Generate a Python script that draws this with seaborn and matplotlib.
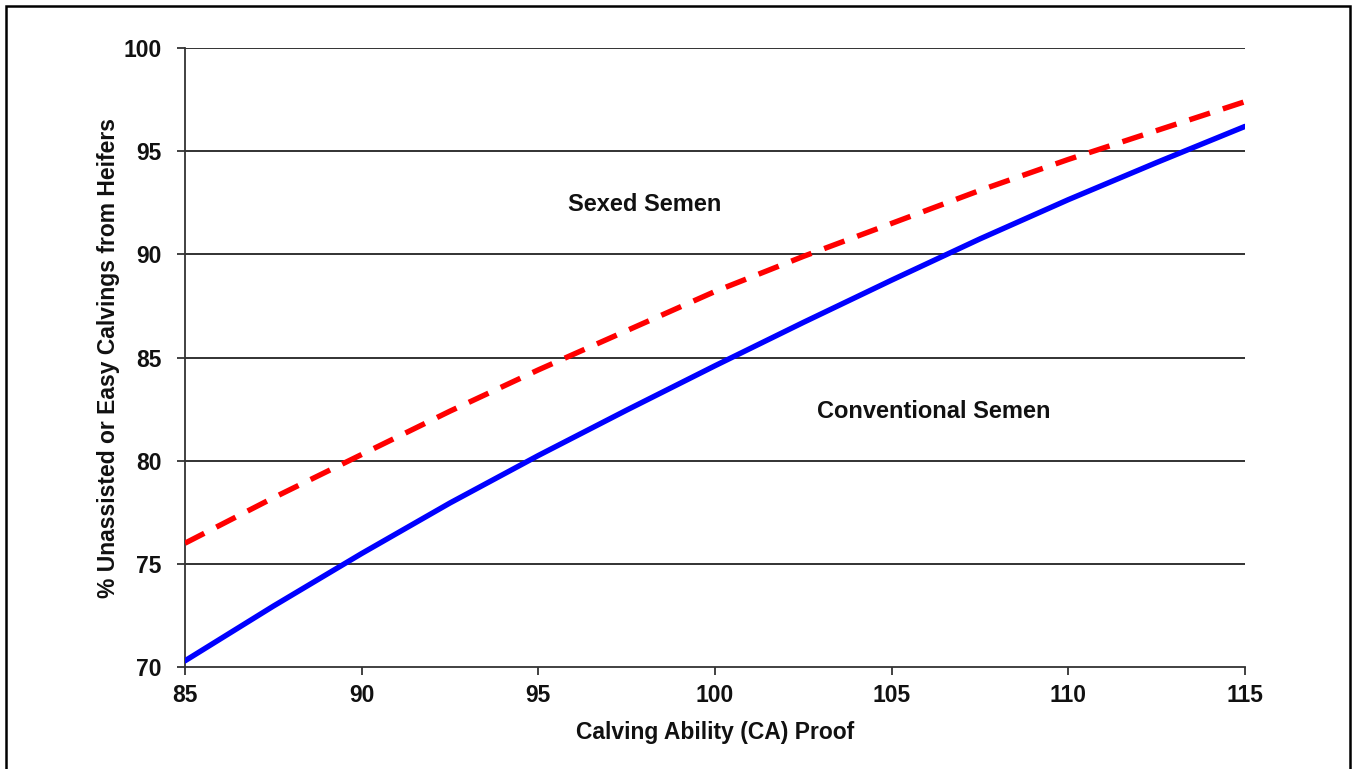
import numpy as np
import pandas as pd
import matplotlib
matplotlib.use("Agg")
import matplotlib.pyplot as plt
import seaborn as sns
from matplotlib.patches import Rectangle

# -----------------------------
# DATA
# -----------------------------
ca_proof = [85, 87.5, 90, 92.5, 95, 97.5, 100, 102.5, 105, 107.5, 110, 112.5, 115]
sexed = [76.0, 78.2, 80.3, 82.4, 84.4, 86.3, 88.2, 89.9, 91.5, 93.1, 94.6, 96.0, 97.4]
conventional = [70.3, 72.95, 75.5, 77.95, 80.25, 82.45, 84.6, 86.7, 88.75, 90.75, 92.65, 94.45, 96.2]

x_ticks = [85, 90, 95, 100, 105, 110, 115]
y_ticks = [70, 75, 80, 85, 90, 95, 100]

df = pd.DataFrame({"ca": ca_proof, "sexed": sexed, "conventional": conventional})

# -----------------------------
# STYLE
# -----------------------------
sns.set_style("white")
plt.rcParams["font.family"] = ["Liberation Sans", "DejaVu Sans"]
plt.rcParams["font.weight"] = "bold"

fig = plt.figure(figsize=(13.55, 7.69), dpi=100)
ax = fig.add_axes([185 / 1355, 1 - 667 / 769, 1060 / 1355, 619 / 769])

# outer frame
fig.patches.append(Rectangle((6 / 1355, -0.05), 1344 / 1355, 1.05 - 6 / 769,
                             transform=fig.transFigure, fill=False,
                             edgecolor="black", linewidth=1.8))

# gridlines
for yv in y_ticks[1:]:
    ax.axhline(yv, color="#222222", linewidth=1.3, zorder=1)

# -----------------------------
# LINES
# -----------------------------
sns.lineplot(data=df, x="ca", y="conventional", ax=ax, color="#0000ff",
             linewidth=3.9, zorder=3)
sns.lineplot(data=df, x="ca", y="sexed", ax=ax, color="#ff0000",
             linewidth=3.9, zorder=3)
ax.lines[-1].set_dashes([4.0, 2.5])

ax.text(98.0, 92.4, "Sexed Semen", ha="center", va="center",
        fontsize=17, fontweight="bold", color="#111111")
ax.text(106.2, 82.4, "Conventional Semen", ha="center", va="center",
        fontsize=17, fontweight="bold", color="#111111")

# -----------------------------
# AXES
# -----------------------------
ax.set_xlim(85, 115)
ax.set_ylim(70, 100)
ax.set_xticks(x_ticks)
ax.set_yticks(y_ticks)
ax.tick_params(axis="both", labelsize=16.5, length=6, width=1.3,
               color="#333333", direction="out",
               bottom=True, left=True, labelcolor="#111111")
for lab in ax.get_xticklabels() + ax.get_yticklabels():
    lab.set_fontweight("bold")
ax.tick_params(axis="x", pad=6)
ax.tick_params(axis="y", pad=11)

ax.set_xlabel("Calving Ability (CA) Proof", fontsize=16.5, fontweight="bold",
              labelpad=10, color="#111111")
ax.set_ylabel("% Unassisted or Easy Calvings from Heifers", fontsize=16.5,
              fontweight="bold", labelpad=2, color="#111111")

sns.despine(ax=ax, top=True, right=True)
for side in ["left", "bottom"]:
    ax.spines[side].set_color("#333333")
    ax.spines[side].set_linewidth(1.3)

fig.savefig("out.png", dpi=100)
